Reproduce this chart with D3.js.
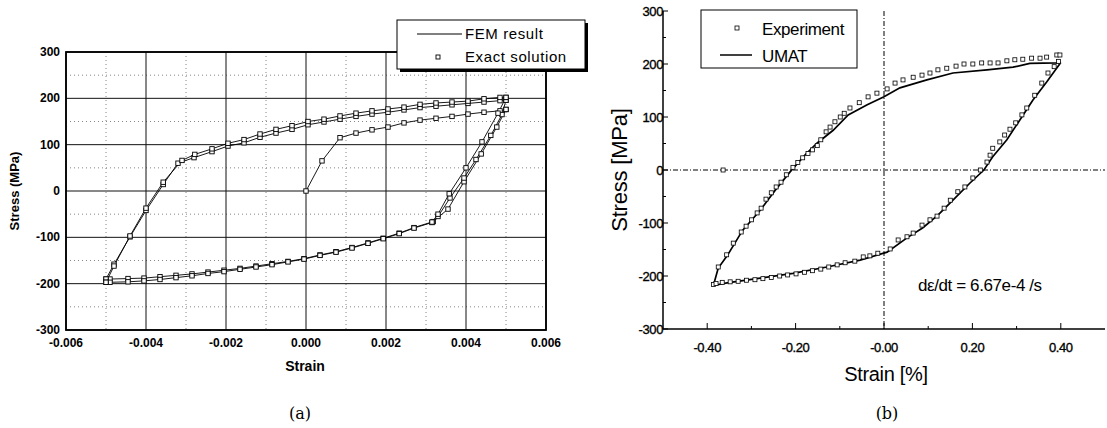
<!DOCTYPE html>
<html><head><meta charset="utf-8">
<script src="https://cdn.jsdelivr.net/npm/d3@7/dist/d3.min.js"></script>
<style>
body{margin:0;background:#fff;}
svg{display:block;}
text{font-family:"Liberation Sans",Arial,sans-serif;fill:#000;}
</style></head>
<body>
<svg id="c" width="1107" height="428"></svg>
<script>
// ---------- Chart (a) data: strain, stress [MPa] ----------
const loadInit = [[0,0],[0.0004,65],[0.00085,115],[0.00125,125],[0.00165,132],[0.00205,138],[0.00245,147],[0.00285,153],[0.00325,157],[0.00365,161],[0.00405,166],[0.00445,170],[0.00485,173],[0.005,176]];
const unload1 = [[0.005,176],[0.00477,138],[0.00438,80],[0.00395,20],[0.00355,-39],[0.00318,-66],[0.0027,-79],[0.00233,-91],[0.00193,-102],[0.00155,-112],[0.00115,-122],[0.00075,-131],[0.00035,-138],[-0.00005,-146],[-0.00045,-152],[-0.00085,-157],[-0.00125,-162],[-0.00165,-167],[-0.00205,-171],[-0.00245,-175],[-0.00285,-179],[-0.00325,-182],[-0.00365,-185],[-0.00405,-188],[-0.00445,-189],[-0.0049,-190],[-0.005,-190]];
const reload1 = [[-0.005,-190],[-0.0048,-158],[-0.0044,-99],[-0.004,-42],[-0.00357,14],[-0.0032,60],[-0.0028,72],[-0.00235,85],[-0.00195,97],[-0.00155,104],[-0.00115,116],[-0.00075,125],[-0.00035,133],[0.00005,143],[0.00045,149],[0.00085,155],[0.00125,161],[0.00165,166],[0.00205,170],[0.00245,175],[0.00285,180],[0.00325,183],[0.00365,186],[0.00405,189],[0.00445,192],[0.00485,195],[0.005,196]];
const unload2 = [[0.005,196],[0.0049,165],[0.00462,120],[0.00425,68],[0.00395,28],[0.0036,-15],[0.0033,-55],[0.00315,-68],[0.0027,-80],[0.00233,-92],[0.00193,-103],[0.00155,-113],[0.00115,-123],[0.00075,-132],[0.00035,-139],[-0.00005,-147],[-0.00045,-153],[-0.00085,-159],[-0.00125,-164],[-0.00165,-169],[-0.00205,-174],[-0.00245,-178],[-0.00285,-183],[-0.00325,-187],[-0.00365,-191],[-0.00405,-194],[-0.00445,-196],[-0.0049,-197],[-0.005,-197]];
const reload2 = [[-0.005,-197],[-0.0048,-162],[-0.0044,-97],[-0.004,-37],[-0.00357,19],[-0.0031,66],[-0.00278,79],[-0.00235,91],[-0.00195,103],[-0.00155,111],[-0.00115,123],[-0.00075,133],[-0.00035,141],[0.00005,150],[0.00045,155],[0.00085,162],[0.00125,168],[0.00165,173],[0.00205,177],[0.00245,181],[0.00285,187],[0.00325,190],[0.00365,192],[0.00405,194],[0.00445,199],[0.00485,202],[0.005,202]];
const unload3 = [[0.005,202],[0.0048,168],[0.0044,106],[0.004,50],[0.00358,-6],[0.0033,-50],[0.00315,-67]];
const xTicksA = [-0.006,-0.004,-0.002,0,0.002,0.004,0.006];
const xTickLabelsA = ["-0.006","-0.004","-0.002","0.000","0.002","0.004","0.006"];
const xMinorA = [-0.005,-0.003,-0.001,0.001,0.003,0.005];
const yTicksA = [-300,-200,-100,0,100,200,300];
const yTickLabelsA = ["-300","-200","-100","0","100","200","300"];
const yMinorA = [-250,-150,-50,50,150,250];

// ---------- Chart (b) data: strain [%], stress [MPa] ----------
const umatUpper = [[-0.386,-218],[-0.375,-185],[-0.355,-162],[-0.32,-114],[-0.28,-76],[-0.246,-38],[-0.212,-3],[-0.18,27],[-0.151,51],[-0.115,75],[-0.081,104],[-0.038,123],[0,138],[0.036,155],[0.097,170],[0.156,183],[0.233,189],[0.292,194],[0.33,201],[0.39,202],[0.40,203]];
const umatLower = [[0.40,203],[0.393,195],[0.368,166],[0.337,132],[0.307,94],[0.278,57],[0.246,25],[0.226,0],[0.194,-25],[0.156,-57],[0.122,-85],[0.088,-109],[0.052,-128],[0.007,-155],[-0.054,-170],[-0.129,-183],[-0.206,-195],[-0.28,-204],[-0.355,-213],[-0.386,-218]];
const expUpper = [[-0.386,-216],[-0.375,-183],[-0.356,-160],[-0.341,-138],[-0.323,-117],[-0.312,-106],[-0.3,-94],[-0.287,-81],[-0.278,-72],[-0.267,-55],[-0.255,-43],[-0.244,-32],[-0.233,-23],[-0.221,-9],[-0.206,5],[-0.195,14],[-0.184,23],[-0.172,31],[-0.162,38],[-0.151,46],[-0.143,57],[-0.131,72],[-0.122,81],[-0.111,91],[-0.099,100],[-0.09,107],[-0.077,117],[-0.056,127],[-0.036,138],[-0.016,145],[0.007,153],[0.025,164],[0.043,170],[0.066,175],[0.086,179],[0.104,183],[0.122,189],[0.142,192],[0.163,196],[0.181,200],[0.201,200],[0.221,202],[0.24,202],[0.258,202],[0.278,206],[0.296,208],[0.314,209],[0.334,211],[0.353,211],[0.368,213],[0.391,217],[0.398,217]];
const expLower = [[0.395,205],[0.385,195],[0.371,183],[0.357,164],[0.341,141],[0.323,117],[0.312,104],[0.298,89],[0.285,77],[0.273,66],[0.262,53],[0.246,41],[0.24,28],[0.233,15],[0.218,0],[0.201,-15],[0.183,-32],[0.167,-41],[0.15,-57],[0.136,-72],[0.12,-87],[0.104,-94],[0.086,-104],[0.066,-119],[0.052,-126],[0.032,-132],[0.014,-149],[-0.014,-157],[-0.032,-162],[-0.047,-164],[-0.066,-172],[-0.088,-175],[-0.106,-179],[-0.125,-183],[-0.143,-187],[-0.162,-190],[-0.18,-193],[-0.199,-196],[-0.218,-198],[-0.236,-200],[-0.255,-203],[-0.274,-205],[-0.292,-207],[-0.311,-208],[-0.33,-210],[-0.348,-211],[-0.366,-212],[-0.38,-214],[-0.364,0]];
const xTicksB = [-0.4,-0.2,0,0.2,0.4];
const xTickLabelsB = ["-0.40","-0.20","-0.00","0.20","0.40"];
const xMinorB = [-0.3,-0.1,0.1,0.3];
const yTicksB = [-300,-200,-100,0,100,200,300];
const yTickLabelsB = ["-300","-200","-100","0","100","200","300"];
const yMinorB = [-250,-150,-50,50,150,250];

const svg = d3.select("#c");

// ================= Chart (a) =================
const xA = d3.scaleLinear().domain([-0.006,0.006]).range([66,546]);
const yA = d3.scaleLinear().domain([-300,300]).range([330,52]);
const gA = svg.append("g");

gA.selectAll(".mx").data(xMinorA).join("line")
  .attr("x1",d=>xA(d)).attr("x2",d=>xA(d)).attr("y1",yA(300)).attr("y2",yA(-300))
  .attr("stroke","#666").attr("stroke-width",0.8).attr("stroke-dasharray","1,3");
gA.selectAll(".my").data(yMinorA).join("line")
  .attr("y1",d=>yA(d)).attr("y2",d=>yA(d)).attr("x1",xA(-0.006)).attr("x2",xA(0.006))
  .attr("stroke","#666").attr("stroke-width",0.8).attr("stroke-dasharray","1,3");
gA.selectAll(".gx").data(xTicksA).join("line")
  .attr("x1",d=>xA(d)).attr("x2",d=>xA(d)).attr("y1",yA(300)).attr("y2",yA(-300))
  .attr("stroke","#111").attr("stroke-width",1);
gA.selectAll(".gy").data(yTicksA).join("line")
  .attr("y1",d=>yA(d)).attr("y2",d=>yA(d)).attr("x1",xA(-0.006)).attr("x2",xA(0.006))
  .attr("stroke","#111").attr("stroke-width",1);
gA.append("rect").attr("x",xA(-0.006)).attr("y",yA(300))
  .attr("width",xA(0.006)-xA(-0.006)).attr("height",yA(-300)-yA(300))
  .attr("fill","none").attr("stroke","#000").attr("stroke-width",1.8);

gA.selectAll(".xl").data(xTicksA).join("text")
  .attr("x",d=>xA(d)).attr("y",347).attr("text-anchor","middle")
  .attr("font-size",12).attr("font-weight","bold").text((d,i)=>xTickLabelsA[i]);
gA.selectAll(".yl").data(yTicksA).join("text")
  .attr("x",60).attr("y",d=>yA(d)+4).attr("text-anchor","end")
  .attr("font-size",12).attr("font-weight","bold").text((d,i)=>yTickLabelsA[i]);
gA.append("text").attr("x",305).attr("y",371).attr("text-anchor","middle")
  .attr("font-size",14).attr("font-weight","bold").text("Strain");
gA.append("text").attr("transform","translate(19,191) rotate(-90)").attr("text-anchor","middle")
  .attr("font-size",13).attr("font-weight","bold").text("Stress (MPa)");

const lineA = d3.line().x(d=>xA(d[0])).y(d=>yA(d[1]));
const branchesA = [loadInit,unload1,reload1,unload2,reload2,unload3];
gA.selectAll(".fem").data(branchesA).join("path")
  .attr("d",lineA).attr("fill","none").attr("stroke","#000").attr("stroke-width",0.9);
const ptsA = branchesA.flat();
gA.selectAll(".ex").data(ptsA).join("rect")
  .attr("x",d=>xA(d[0])-2.2).attr("y",d=>yA(d[1])-2.2).attr("width",4.4).attr("height",4.4)
  .attr("fill","#fff").attr("stroke","#000").attr("stroke-width",0.9);

const lgA = gA.append("g");
lgA.append("rect").attr("x",400).attr("y",23).attr("width",188).attr("height",49).attr("fill","#000");
lgA.append("rect").attr("x",397).attr("y",20).attr("width",188).attr("height",49)
  .attr("fill","#fff").attr("stroke","#000").attr("stroke-width",1);
lgA.append("line").attr("x1",417).attr("x2",462).attr("y1",34).attr("y2",34).attr("stroke","#000").attr("stroke-width",1);
lgA.append("text").attr("x",465).attr("y",39).attr("font-size",15).attr("letter-spacing",0.6).text("FEM result");
lgA.append("rect").attr("x",436).attr("y",55).attr("width",4).attr("height",4).attr("fill","#fff").attr("stroke","#000").attr("stroke-width",0.9);
lgA.append("text").attr("x",465).attr("y",62).attr("font-size",15).attr("letter-spacing",0.6).text("Exact solution");

svg.append("text").attr("x",300).attr("y",419).attr("text-anchor","middle")
  .style("font-family","'DejaVu Serif',serif").attr("font-size",16).text("(a)");

// ================= Chart (b) =================
const xB = d3.scaleLinear().domain([-0.5,0.5]).range([663,1105]);
const yB = d3.scaleLinear().domain([-300,300]).range([329,11]);
const gB = svg.append("g");

gB.append("line").attr("x1",xB(0)).attr("x2",xB(0)).attr("y1",yB(300)).attr("y2",yB(-300))
  .attr("stroke","#000").attr("stroke-width",1).attr("stroke-dasharray","5,2,1,2");
gB.append("line").attr("x1",xB(-0.5)).attr("x2",xB(0.5)).attr("y1",yB(0)).attr("y2",yB(0))
  .attr("stroke","#000").attr("stroke-width",1).attr("stroke-dasharray","5,2,1,2");

gB.append("line").attr("x1",xB(-0.5)).attr("x2",xB(-0.5)).attr("y1",yB(300)).attr("y2",yB(-300)).attr("stroke","#000").attr("stroke-width",1.5);
gB.append("line").attr("x1",xB(-0.5)).attr("x2",xB(0.5)).attr("y1",yB(-300)).attr("y2",yB(-300)).attr("stroke","#000").attr("stroke-width",1.5);
gB.selectAll(".xt").data(xTicksB).join("line")
  .attr("x1",d=>xB(d)).attr("x2",d=>xB(d)).attr("y1",yB(-300)).attr("y2",yB(-300)-6).attr("stroke","#000").attr("stroke-width",1);
gB.selectAll(".xtm").data(xMinorB).join("line")
  .attr("x1",d=>xB(d)).attr("x2",d=>xB(d)).attr("y1",yB(-300)).attr("y2",yB(-300)-3).attr("stroke","#000").attr("stroke-width",1);
gB.selectAll(".yt").data(yTicksB).join("line")
  .attr("x1",xB(-0.5)).attr("x2",xB(-0.5)+5).attr("y1",d=>yB(d)).attr("y2",d=>yB(d)).attr("stroke","#000").attr("stroke-width",1);
gB.selectAll(".ytm").data(yMinorB).join("line")
  .attr("x1",xB(-0.5)).attr("x2",xB(-0.5)+3).attr("y1",d=>yB(d)).attr("y2",d=>yB(d)).attr("stroke","#000").attr("stroke-width",1);

gB.selectAll(".xl").data(xTicksB).join("text")
  .attr("x",d=>xB(d)).attr("y",352).attr("text-anchor","middle")
  .attr("font-size",13).attr("letter-spacing",-0.4).attr("stroke","#000").attr("stroke-width",0.35).text((d,i)=>xTickLabelsB[i]);
gB.selectAll(".yl").data(yTicksB).join("text")
  .attr("x",663).attr("y",d=>yB(d)+4.5).attr("text-anchor","end")
  .attr("font-size",13).attr("letter-spacing",-0.4).attr("stroke","#000").attr("stroke-width",0.35).text((d,i)=>yTickLabelsB[i]);
gB.append("text").attr("x",886).attr("y",381).attr("text-anchor","middle")
  .attr("font-size",20).attr("letter-spacing",-0.3).text("Strain [%]");
gB.append("text").attr("transform","translate(627,170) rotate(-90)").attr("text-anchor","middle")
  .attr("font-size",22).attr("letter-spacing",-0.2).text("Stress [MPa]");
gB.append("text").attr("x",918).attr("y",291).attr("font-size",17).attr("letter-spacing",-0.4).text("dε/dt = 6.67e-4 /s");

const lineB = d3.line().x(d=>xB(d[0])).y(d=>yB(d[1]));
gB.selectAll(".umat").data([umatUpper,umatLower]).join("path")
  .attr("d",lineB).attr("fill","none").attr("stroke","#000").attr("stroke-width",1.7);
gB.selectAll(".exp").data(expUpper.concat(expLower)).join("rect")
  .attr("x",d=>xB(d[0])-2).attr("y",d=>yB(d[1])-2).attr("width",4).attr("height",4)
  .attr("fill","#fff").attr("stroke","#000").attr("stroke-width",0.8);

const lgB = gB.append("g");
lgB.append("rect").attr("x",701).attr("y",10).attr("width",156).attr("height",58)
  .attr("fill","#fff").attr("stroke","#000").attr("stroke-width",1);
lgB.append("rect").attr("x",735).attr("y",26).attr("width",4).attr("height",4).attr("fill","#fff").attr("stroke","#000").attr("stroke-width",0.8);
lgB.append("text").attr("x",762).attr("y",35).attr("font-size",17).attr("letter-spacing",-0.4).text("Experiment");
lgB.append("line").attr("x1",720).attr("x2",752).attr("y1",55).attr("y2",55).attr("stroke","#000").attr("stroke-width",1.5);
lgB.append("text").attr("x",762).attr("y",62).attr("font-size",17).attr("letter-spacing",-0.4).text("UMAT");

svg.append("text").attr("x",887).attr("y",419).attr("text-anchor","middle")
  .style("font-family","'DejaVu Serif',serif").attr("font-size",16).text("(b)");
</script>
</body></html>
